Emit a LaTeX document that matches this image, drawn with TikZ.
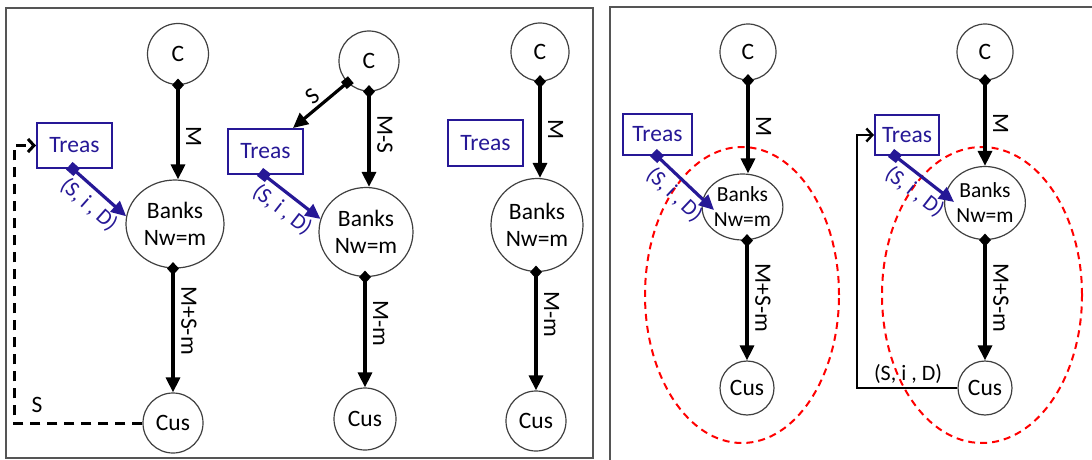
\documentclass[tikz,border=0pt]{standalone}
\usepackage{fontspec}
\setmainfont{Carlito}
\usetikzlibrary{arrows.meta,shapes.geometric}
\definecolor{tblue}{RGB}{38,24,150}
\definecolor{frm}{RGB}{85,85,85}
\begin{document}
\begin{tikzpicture}[x=1pt,y=-1pt,
  every node/.style={font=\fontsize{23.5}{27}\selectfont},
  smallfont/.style={font=\fontsize{21.5}{25}\selectfont},
  circ/.style={circle,draw=black!75,line width=1.2pt,fill=white,inner sep=0pt},
  bank/.style={ellipse,draw=black!75,line width=1.2pt,fill=white,inner sep=0pt,align=center},
  treas/.style={rectangle,draw=tblue,line width=2pt,fill=white,text=tblue,inner sep=0pt},
  flow/.style={line width=3.2pt,draw=black,{Diamond[length=13pt,width=12pt]}-{Triangle[length=15pt,width=14pt]},shorten <=-6.5pt},
  sflow/.style={line width=3.2pt,draw=black,{Square[length=9pt,width=9pt]}-{Triangle[length=15pt,width=14pt]},shorten <=-4.5pt},
  bflow/.style={line width=3.2pt,draw=tblue,{Square[length=10pt,width=10pt]}-{Triangle[length=15pt,width=14pt]},shorten <=-5pt},
  fbline/.style={line width=3pt,draw=black,-{Straight Barb[length=6pt,width=13pt]}},
  oval/.style={ellipse,draw=red,line width=2pt,dash pattern=on 7pt off 5pt,inner sep=0pt},
  lab/.style={rotate=-90,anchor=south,inner sep=6.5pt},
  blab/.style={midway,sloped,below,inner sep=5pt,text=tblue,font=\fontsize{22}{26}\selectfont},
  panelframe/.style={draw=frm,line width=1.3pt}
]
\useasboundingbox (0,0) rectangle (1092,460);

% panel frames
\draw[panelframe] (6,8) rectangle (593,458);
\draw[panelframe] (610,462) -- (610,7) -- (1094,7);

% red dashed ovals
\node[oval,minimum width=194,minimum height=296] (E4) at (742,295) {};
\node[oval,minimum width=200,minimum height=296] (E5) at (982,295) {};

% ---------- Panel 1 ----------
\node[circ,minimum size=61] (C1) at (178,54) {C};
\node[treas,minimum width=75,minimum height=45] (T1) at (74.5,145.5) {Treas};
\node[bank,minimum width=98,minimum height=88] (B1) at (175,224) {Banks\\Nw=m};
\node[circ,minimum size=60] (U1) at (173,423) {Cus};
\coordinate (k1) at (14,145.5);
\draw[flow] (C1.south) -- (C1.south |- B1.north) node[lab,pos=0.55]{M};
\draw[flow] (B1.south -| U1.north) -- (U1.north) node[lab,pos=0.42]{M+S-m};
\draw[bflow] ([xshift=-1.5]T1.south) -- (B1.171) node[blab]{(S, i , D)};
\draw[fbline,dash pattern=on 10pt off 7pt] (U1.west) -| (k1) -- (T1.west);
\node (s1) at (37,405) {S};

% ---------- Panel 2 ----------
\node[circ,minimum size=60] (C2) at (369,61) {C};
\node[treas,minimum width=75,minimum height=45] (T2) at (265.5,151.5) {Treas};
\node[bank,minimum width=94,minimum height=89] (B2) at (366,232) {Banks\\Nw=m};
\node[circ,minimum size=62] (U2) at (365,419) {Cus};
\draw[flow] (C2.south) -- (C2.south |- B2.north) node[lab,pos=0.45]{M-S};
\draw[sflow] (C2.225) -- ([xshift=27.5]T2.north) node[midway,sloped,above,inner sep=3pt]{S};
\draw[bflow] ([xshift=-1.5]T2.south) -- (B2.164) node[blab]{(S, i , D)};
\draw[flow] (B2.south -| U2.north) -- (U2.north) node[lab,pos=0.42]{M-m};

% ---------- Panel 3 ----------
\node[circ,minimum size=58] (C3) at (540,52) {C};
\node[treas,minimum width=75,minimum height=46] (T3) at (485.5,143) {Treas};
\node[bank,minimum width=92,minimum height=93] (B3) at (537,225) {Banks\\Nw=m};
\node[circ,minimum size=60] (U3) at (536,421) {Cus};
\draw[flow] (C3.south) -- (C3.south |- B3.north) node[lab,pos=0.5]{M};
\draw[flow] (B3.south -| U3.north) -- (U3.north) node[lab,pos=0.36]{M-m};

% ---------- Panel 4 ----------
\node[circ,minimum size=56] (C4) at (748,52) {C};
\node[treas,minimum width=69,minimum height=41] (T4) at (657.5,134.5) {Treas};
\node[bank,smallfont,minimum width=69,minimum height=66] (B4) at (742.5,207) {Banks\\Nw=m};
\node[circ,minimum size=54] (U4) at (747,388) {Cus};
\draw[flow] (C4.south) -- (C4.south |- B4.north) node[lab,pos=0.5]{M};
\draw[flow] (B4.south -| U4.north) -- (U4.north) node[lab,pos=0.48]{M+S-m};
\draw[bflow] ([xshift=-0.5]T4.south) -- ([xshift=12.5,yshift=-3]B4.west) node[blab]{(S, i , D)};

% ---------- Panel 5 ----------
\node[circ,minimum size=56] (C5) at (985,52) {C};
\node[treas,minimum width=64,minimum height=40] (T5) at (907,135) {Treas};
\node[bank,smallfont,minimum width=76,minimum height=73] (B5) at (985,203) {Banks\\Nw=m};
\node[circ,minimum size=54] (U5) at (985,388) {Cus};
\coordinate (k5) at (857,135);
\draw[flow] (C5.south) -- (C5.south |- B5.north) node[lab,pos=0.5]{M};
\draw[flow] (B5.south -| U5.north) -- (U5.north) node[lab,pos=0.48]{M+S-m};
\draw[bflow] ([xshift=-12]T5.south) -- ([xshift=10,yshift=1]B5.west) node[blab]{(S, i , D)};
\draw[fbline,line width=2.4pt] (U5.west) -| (k5) -- (T5.west);
\node[font=\fontsize{22}{26}\selectfont] (s5) at (908,374) {(S, i , D)};
\end{tikzpicture}
\end{document}
